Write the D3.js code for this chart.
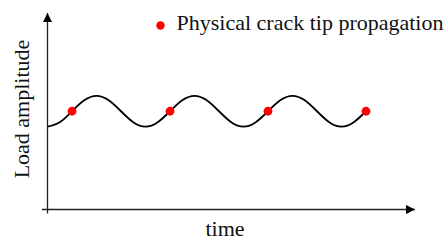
<!DOCTYPE html>
<html>
<head>
<meta charset="utf-8">
<script src="https://cdn.jsdelivr.net/npm/d3@7"></script>
<style>
  body { margin: 0; background: #fff; }
  text { font-family: "Liberation Serif", "DejaVu Serif", serif; fill: #111; }
</style>
</head>
<body>
<script>

var width = 446;
var height = 240;

// time in load cycles, load normalised to the cycle amplitude
var cycleTime = [0, 0.125, 0.25, 0.375, 0.5, 0.625, 0.75, 0.875,
                 1, 1.125, 1.25, 1.375, 1.5, 1.625, 1.75, 1.875,
                 2, 2.125, 2.25, 2.375, 2.5, 2.625, 2.75, 2.875,
                 3, 3.125, 3.25];
var loadValue = [-1, -0.71, 0, 0.71, 1, 0.71, 0, -0.71,
                 -1, -0.71, 0, 0.71, 1, 0.71, 0, -0.71,
                 -1, -0.71, 0, 0.71, 1, 0.71, 0, -0.71,
                 -1, -0.71, 0];

// points where the crack tip propagates
var crackTime = [0.25, 1.25, 2.25, 3.25];
var crackLoad = [0, 0, 0, 0];

var legendLabel = "Physical crack tip propagation";
var xLabel = "time";
var yLabel = "Load amplitude";

var svg = d3.select("body")
    .append("svg")
    .attr("width", width)
    .attr("height", height);

var x = d3.scaleLinear().domain([0, 3.75]).range([47.5, 415]);
var y = d3.scaleLinear().domain([-6.35, 6.35]).range([209.5, 13]);

var defs = svg.append("defs");
defs.append("marker")
    .attr("id", "arrow")
    .attr("viewBox", "0 0 10 10")
    .attr("refX", 10).attr("refY", 5)
    .attr("markerUnits", "userSpaceOnUse")
    .attr("markerWidth", 9).attr("markerHeight", 9)
    .attr("orient", "auto")
  .append("path")
    .attr("d", "M0,0L10,5L0,10Z")
    .attr("fill", "#000");

// axes as plain arrows
svg.append("line")
    .attr("x1", x(0) - 5.5).attr("y1", y(-6.35))
    .attr("x2", x(3.75)).attr("y2", y(-6.35))
    .attr("stroke", "#222").attr("stroke-width", 1.3)
    .attr("marker-end", "url(#arrow)");

svg.append("line")
    .attr("x1", x(0)).attr("y1", y(-6.35) + 4)
    .attr("x2", x(0)).attr("y2", y(6.35))
    .attr("stroke", "#222").attr("stroke-width", 1.3)
    .attr("marker-end", "url(#arrow)");

var points = cycleTime.map(function(t, i) { return [t, loadValue[i]]; });

var line = d3.line()
    .x(function(d) { return x(d[0]); })
    .y(function(d) { return y(d[1]); })
    .curve(d3.curveNatural);

svg.append("path")
    .datum(points)
    .attr("d", line)
    .attr("fill", "none")
    .attr("stroke", "#000")
    .attr("stroke-width", 1.8);

svg.append("g").selectAll("circle")
    .data(crackTime)
    .enter().append("circle")
    .attr("cx", function(d) { return x(d); })
    .attr("cy", function(d, i) { return y(crackLoad[i]); })
    .attr("r", 4.4)
    .attr("fill", "#ff0000");

// legend
svg.append("circle")
    .attr("cx", 160.5).attr("cy", 25.5)
    .attr("r", 4.2)
    .attr("fill", "#ff0000");

svg.append("text")
    .attr("x", 176.5).attr("y", 30)
    .attr("font-size", 22)
    .text(legendLabel);

svg.append("text")
    .attr("x", 225).attr("y", 236)
    .attr("text-anchor", "middle")
    .attr("font-size", 22)
    .text(xLabel);

svg.append("text")
    .attr("transform", "translate(29,109) rotate(-90)")
    .attr("text-anchor", "middle")
    .attr("font-size", 22)
    .text(yLabel);

</script>
</body>
</html>
